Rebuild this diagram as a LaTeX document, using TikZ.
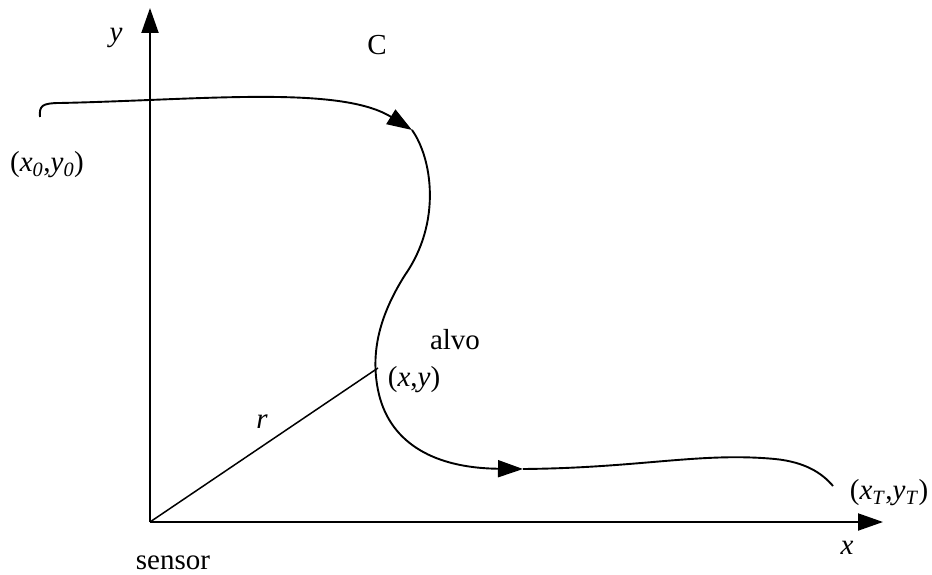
\documentclass[tikz,border=0pt]{standalone}
\usepackage{fontspec}
\setmainfont{Liberation Serif}
\usepackage{tikz}
\usetikzlibrary{arrows.meta}

\begin{document}
\begin{tikzpicture}[
    x=1pt, y=-1pt,
    every node/.style={font=\fontsize{29}{32}\selectfont, inner sep=0pt},
    axis/.style={line width=2pt, -{Triangle[length=25pt, width=17pt]}},
    track/.style={line width=1.9pt},
    trackarrow/.style={track, -{Triangle[length=25pt, width=17pt]}}
  ]
    \useasboundingbox (0,0) rectangle (932,575);
    % axes
    \coordinate (sensorpt) at (150,522);
    \coordinate (ytip) at (150,8);
    \coordinate (xtip) at (883,522);
    \draw[axis] (sensorpt) -- (ytip);
    \draw[axis] (sensorpt) -- (xtip);
    % trajectory points
    \coordinate (start) at (40,117);
    \coordinate (arrowA) at (412,130);
    \coordinate (bend) at (405,275);
    \coordinate (target) at (378,390);
    \coordinate (arrowB) at (523,469);
    \coordinate (mid) at (775,459);
    \coordinate (stop) at (833,486);
    \draw[trackarrow] (start) .. controls (39,106) and (42,103) .. (60,103)
      .. controls (200,100) and (340,85) .. (arrowA);
    \draw[track] (arrowA) .. controls (432,158) and (442,222) .. (bend)
      .. controls (381,313) and (370,350) .. (target);
    \draw[trackarrow] (target) .. controls (388,440) and (430,468) .. (arrowB);
    \draw[track] (arrowB) .. controls (640,468) and (700,452) .. (mid)
      .. controls (805,462) and (822,473) .. (stop);
    % range line
    \coordinate (rend) at (378,368);
    \draw[line width=1.5pt] (sensorpt) -- (rend);
    % labels
    \node (ylab) at (116,38) {\textit{y}};
    \node (clab) at (377,45) {C};
    \node (startlab) at (47,165) {(\textit{x}\textsubscript{\textit{0}},\textit{y}\textsubscript{\textit{0}})};
    \node (alvolab) at (455,340) {alvo};
    \node (xylab) at (414,380) {(\textit{x},\textit{y})};
    \node (rlab) at (262,422) {\textit{r}};
    \node (stoplab) at (889,493) {(\textit{x}\textsubscript{\textit{T}},\textit{y}\textsubscript{\textit{T}})};
    \node (xlab) at (847,548) {\textit{x}};
    \node (sensorlab) at (173,563) {sensor};
  \end{tikzpicture}
\end{document}
